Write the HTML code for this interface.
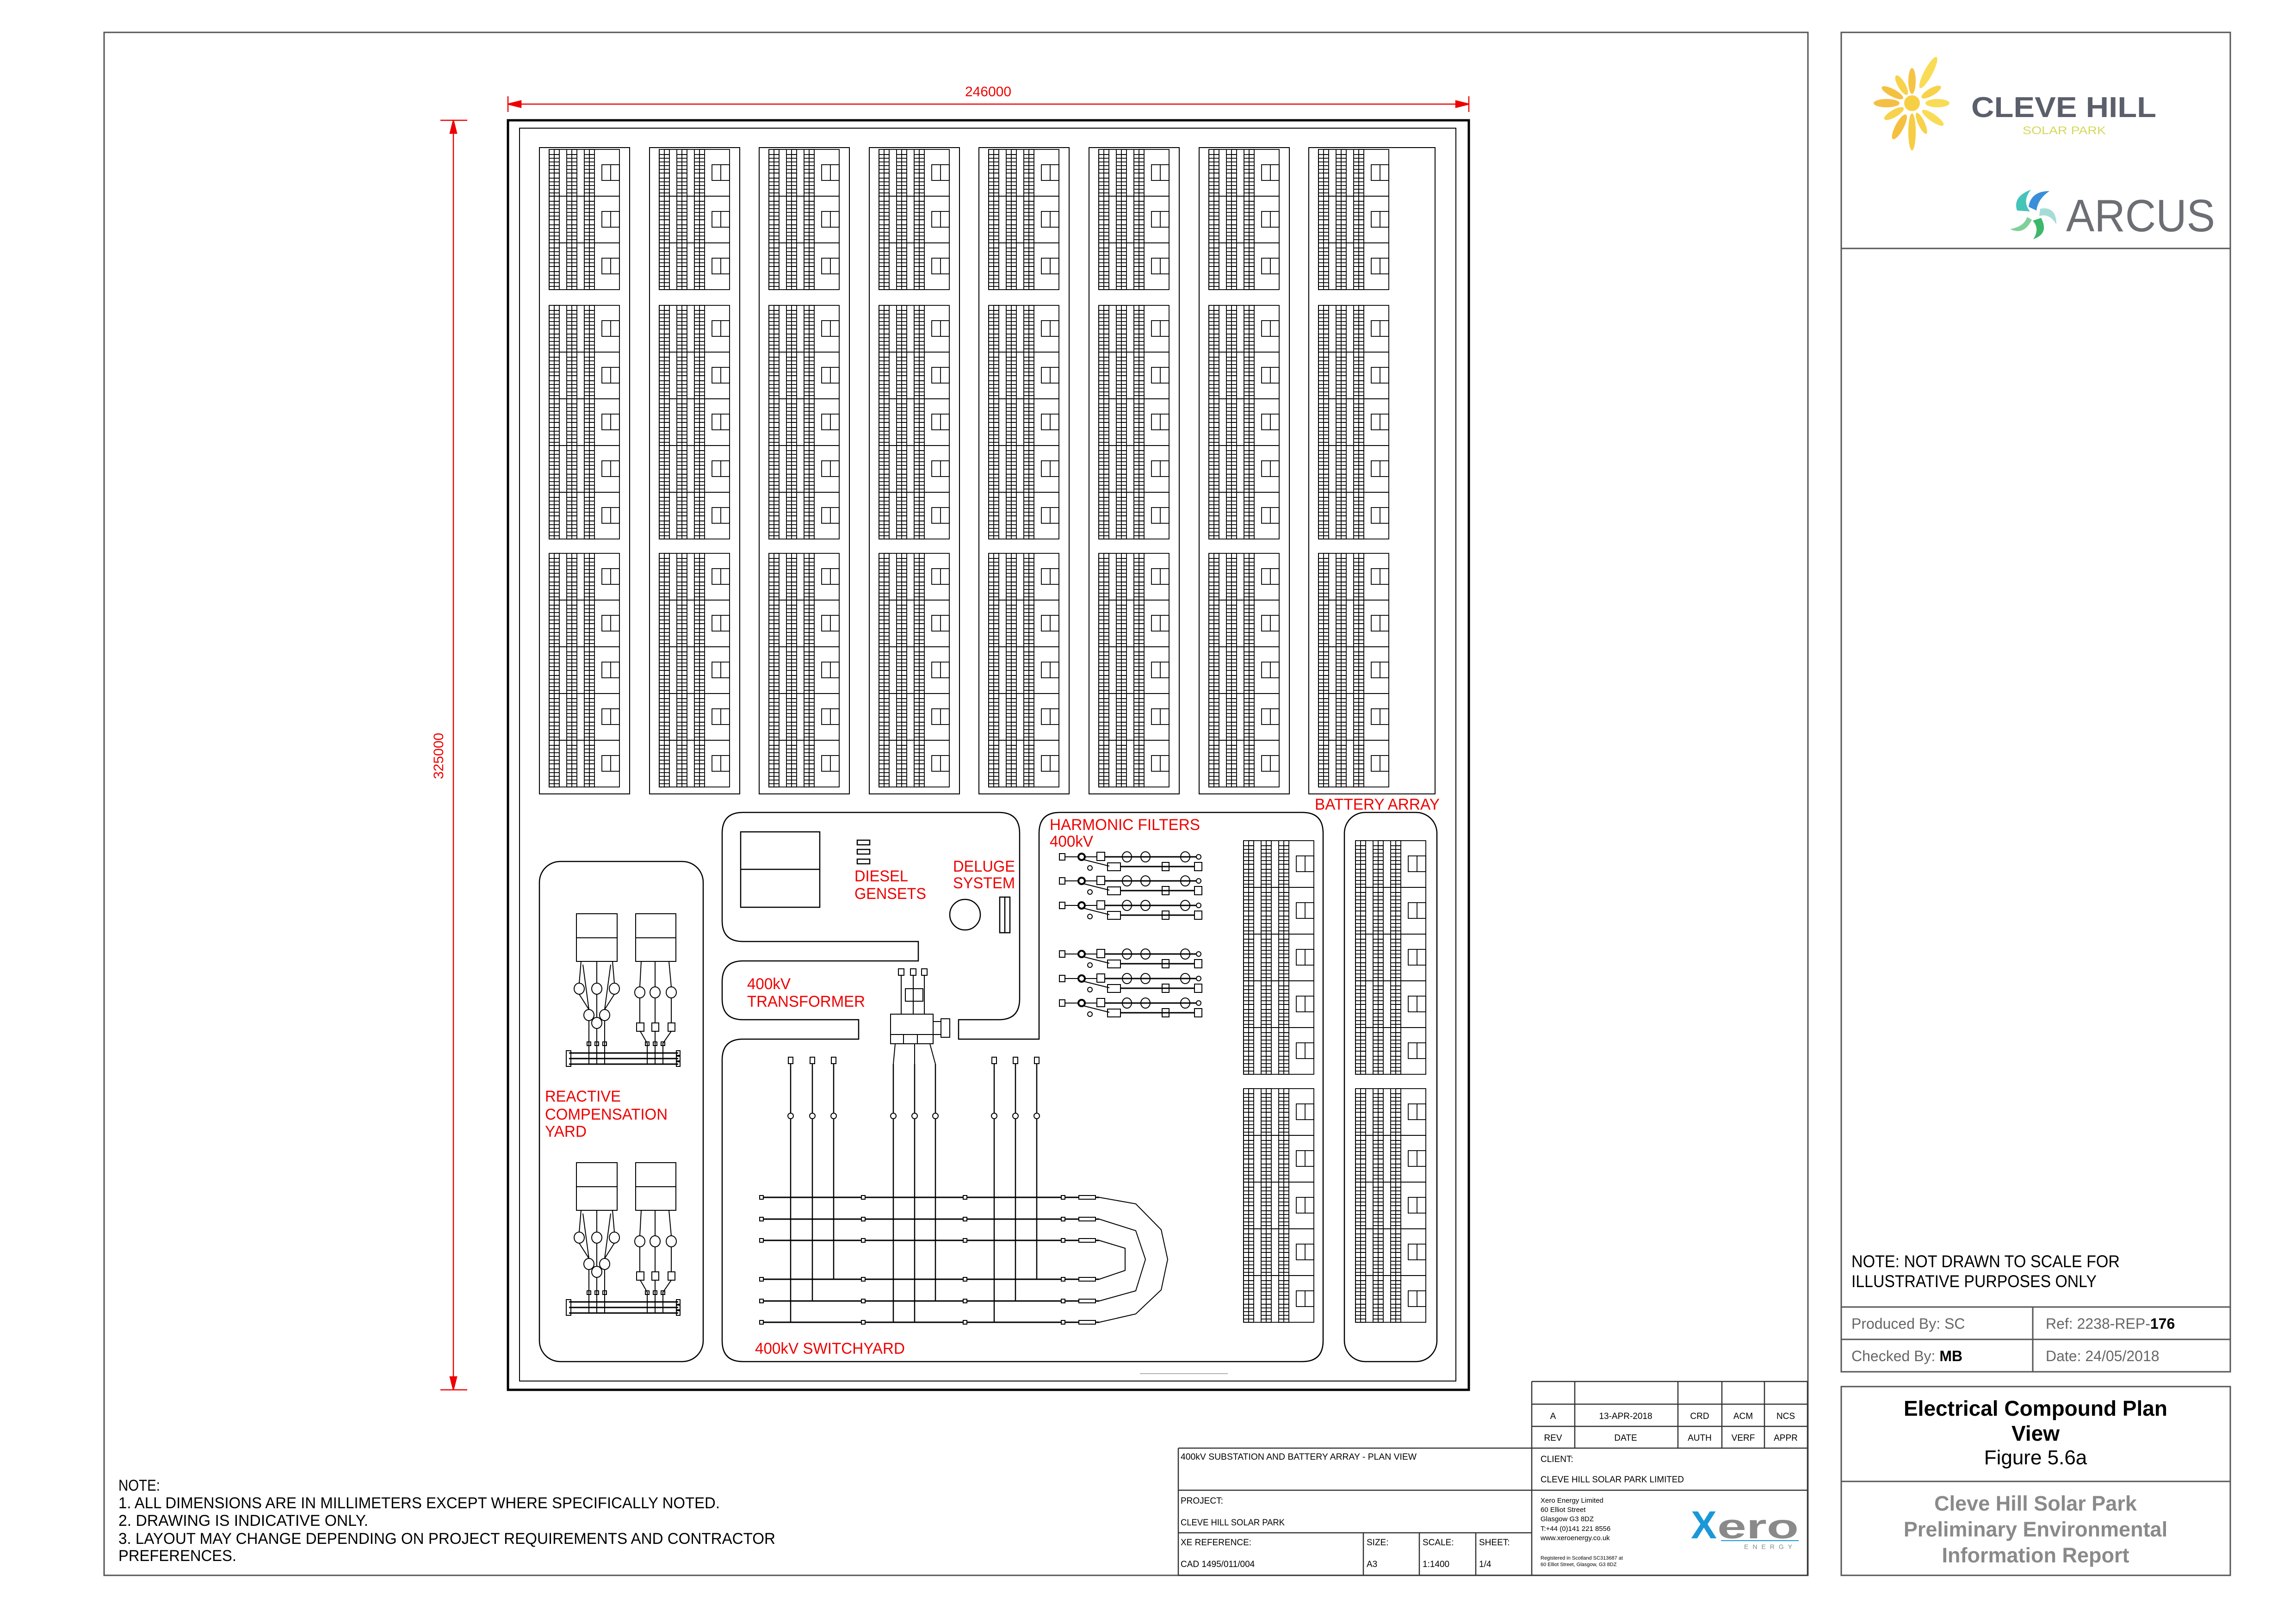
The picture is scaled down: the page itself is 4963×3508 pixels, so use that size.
<!DOCTYPE html>
<html><head><meta charset="utf-8"><style>html,body{margin:0;padding:0;background:#fff}svg{display:block}</style></head>
<body>
<svg xmlns="http://www.w3.org/2000/svg" width="4963" height="3508" viewBox="0 0 4963 3508" font-family="Liberation Sans, Arial, sans-serif">
<defs>
<g id="rk" fill="none" stroke="#000" stroke-width="1.8">
<rect x="11" y="0" width="11" height="11"/><line x1="0" y1="0" x2="0" y2="11"/>
<rect x="0" y="11" width="22" height="40"/><line x1="11" y1="11" x2="11" y2="51"/>
<line x1="0" y1="19" x2="22" y2="19"/><line x1="0" y1="27" x2="22" y2="27"/><line x1="0" y1="35" x2="22" y2="35"/><line x1="0" y1="43" x2="22" y2="43"/>
<rect x="11" y="51" width="11" height="11"/><line x1="0" y1="51" x2="0" y2="62"/>
<rect x="0" y="62" width="22" height="39"/><line x1="11" y1="62" x2="11" y2="101"/>
<line x1="0" y1="70" x2="22" y2="70"/><line x1="0" y1="78" x2="22" y2="78"/><line x1="0" y1="86" x2="22" y2="86"/><line x1="0" y1="94" x2="22" y2="94"/>
</g>
<g id="row">
<use href="#rk" x="0" y="0"/><use href="#rk" x="38" y="0"/><use href="#rk" x="76" y="0"/>
<g fill="none" stroke="#000" stroke-width="1.8"><rect x="0" y="0" width="152" height="101"/><rect x="114" y="33" width="38" height="34"/><line x1="133" y1="33" x2="133" y2="67"/></g>
</g>
<g id="b3"><use href="#row" y="0"/><use href="#row" y="101"/><use href="#row" y="202"/></g>
<g id="b5"><use href="#row" y="0"/><use href="#row" y="101"/><use href="#row" y="202"/><use href="#row" y="303"/><use href="#row" y="404"/></g>
<g id="hf" fill="none" stroke="#000" stroke-width="2">
<rect x="-8" y="-7" width="12" height="14"/><line x1="4" y1="0" x2="33" y2="0"/>
<circle cx="40" cy="0" r="7" stroke-width="4"/><line x1="47" y1="0" x2="73" y2="0"/>
<line x1="44" y1="6" x2="100" y2="20"/>
<rect x="73" y="-10" width="17" height="18"/><line x1="90" y1="0" x2="288" y2="0" stroke-width="3"/>
<ellipse cx="138" cy="0" rx="10" ry="11"/><ellipse cx="178" cy="0" rx="10" ry="11"/><ellipse cx="264" cy="0" rx="10" ry="11"/>
<circle cx="293" cy="0" r="5"/><circle cx="58" cy="24" r="5"/>
<rect x="96" y="13" width="28" height="17"/><line x1="124" y1="21" x2="284" y2="21" stroke-width="3"/>
<rect x="214" y="12" width="15" height="18"/><rect x="284" y="12" width="16" height="18"/>
</g>
<g id="rc" fill="none" stroke="#000" stroke-width="2">
<rect x="0" y="0" width="88" height="103"/><line x1="0" y1="52" x2="88" y2="52"/>
<rect x="128" y="0" width="87" height="103"/><line x1="128" y1="52" x2="215" y2="52"/>
<path d="M10 103 L6 150 M44 103 L44 150 M78 103 L82 150 M6 174 L27 207 M82 174 L61 207 M44 174 L44 224 M14 110 L27 207 M74 110 L61 207"/>
<ellipse cx="6" cy="162" rx="11" ry="12"/><ellipse cx="44" cy="162" rx="11" ry="12"/><ellipse cx="82" cy="162" rx="11" ry="12"/>
<ellipse cx="27" cy="219" rx="11" ry="12"/><ellipse cx="61" cy="219" rx="11" ry="12"/><ellipse cx="44" cy="236" rx="11" ry="12"/>
<path d="M27 231 V325 M44 248 V325 M61 231 V325"/>
<path d="M140 103 L137 158 M170 103 L170 158 M200 103 L205 158 M137 182 V236 M170 182 V236 M205 182 V236"/>
<ellipse cx="137" cy="170" rx="11" ry="12"/><ellipse cx="170" cy="170" rx="11" ry="12"/><ellipse cx="205" cy="170" rx="11" ry="12"/>
<rect x="130" y="236" width="16" height="18"/><rect x="163" y="236" width="15" height="18"/><rect x="198" y="236" width="15" height="18"/>
<path d="M138 254 L153 280 V325 M170 254 V325 M205 254 L187 280 V325"/>
<path d="M-16 301 H220 M-16 313 H220 M-16 325 H220" stroke-width="3"/>
<rect x="-22" y="296" width="10" height="34"/><rect x="216" y="296" width="8" height="10"/><rect x="216" y="308" width="8" height="10"/><rect x="216" y="320" width="8" height="10"/>
<rect x="23" y="277" width="8" height="8"/><rect x="40" y="277" width="8" height="8"/><rect x="57" y="277" width="8" height="8"/>
<rect x="149" y="277" width="8" height="8"/><rect x="166" y="277" width="8" height="8"/><rect x="183" y="277" width="8" height="8"/>
</g>
</defs>

<!-- outer sheet border -->
<rect x="225" y="70" width="3683" height="3335" fill="none" stroke="#555" stroke-width="3"/>

<!-- dimensions -->
<g stroke="#e00" stroke-width="2.5" fill="#e00">
<line x1="1098" y1="225" x2="3175" y2="225"/>
<line x1="1098" y1="208" x2="1098" y2="242"/><line x1="3175" y1="208" x2="3175" y2="242"/>
<path d="M1098 225 L1126 218 L1126 232 Z"/><path d="M3175 225 L3147 218 L3147 232 Z"/>
<line x1="980" y1="260" x2="980" y2="3004"/>
<line x1="952" y1="260" x2="1010" y2="260"/><line x1="952" y1="3004" x2="1010" y2="3004"/>
<path d="M980 260 L973 288 L987 288 Z"/><path d="M980 3004 L973 2976 L987 2976 Z"/>
</g>
<text x="2136" y="208" font-size="30" fill="#e00" text-anchor="middle">246000</text>
<text x="0" y="0" font-size="30" fill="#e00" text-anchor="middle" transform="translate(958 1634) rotate(-90)">325000</text>

<!-- main frame -->
<rect x="1098" y="260" width="2077" height="2744" fill="none" stroke="#000" stroke-width="5"/>
<rect x="1123" y="277" width="2024" height="2708" fill="none" stroke="#000" stroke-width="2"/>
<line x1="2464" y1="2969" x2="2654" y2="2969" stroke="#999" stroke-width="1.5"/>

<!-- battery groups -->
<g fill="none" stroke="#000" stroke-width="2">
<rect x="1166" y="319" width="195" height="1397"/><rect x="1404" y="319" width="195" height="1397"/>
<rect x="1641" y="319" width="195" height="1397"/><rect x="1879" y="319" width="195" height="1397"/>
<rect x="2116" y="319" width="195" height="1397"/><rect x="2354" y="319" width="195" height="1397"/>
<rect x="2592" y="319" width="195" height="1397"/><rect x="2829" y="319" width="273" height="1397"/>
</g>
<use href="#b3" x="1187" y="323"/><use href="#b5" x="1187" y="660"/><use href="#b5" x="1187" y="1196"/>
<use href="#b3" x="1425" y="323"/><use href="#b5" x="1425" y="660"/><use href="#b5" x="1425" y="1196"/>
<use href="#b3" x="1662" y="323"/><use href="#b5" x="1662" y="660"/><use href="#b5" x="1662" y="1196"/>
<use href="#b3" x="1900" y="323"/><use href="#b5" x="1900" y="660"/><use href="#b5" x="1900" y="1196"/>
<use href="#b3" x="2137" y="323"/><use href="#b5" x="2137" y="660"/><use href="#b5" x="2137" y="1196"/>
<use href="#b3" x="2375" y="323"/><use href="#b5" x="2375" y="660"/><use href="#b5" x="2375" y="1196"/>
<use href="#b3" x="2613" y="323"/><use href="#b5" x="2613" y="660"/><use href="#b5" x="2613" y="1196"/>
<use href="#b3" x="2850" y="323"/><use href="#b5" x="2850" y="660"/><use href="#b5" x="2850" y="1196"/>

<!-- lower compound outlines -->
<g fill="none" stroke="#000" stroke-width="2.5">
<rect x="1166" y="1862" width="354" height="1081" rx="45"/>
<path d="M1985 2035 H1606 Q1561 2035 1561 1990 V1801 Q1561 1756 1606 1756 H2159 Q2204 1756 2204 1801 V2159 Q2204 2204 2159 2204 H2072 V2246 H2246 V1801 Q2246 1756 2291 1756 H2815 Q2860 1756 2860 1801 V2898 Q2860 2943 2815 2943 H1606 Q1561 2943 1561 2898 V2291 Q1561 2246 1606 2246 H1856 V2204 H1606 Q1561 2204 1561 2159 V2122 Q1561 2077 1606 2077 H1985 Z"/>
<rect x="2906" y="1756" width="200" height="1187" rx="45"/>
<!-- diesel -->
<rect x="1601" y="1798" width="171" height="163"/><line x1="1601" y1="1879" x2="1772" y2="1879"/>
<rect x="1853" y="1816" width="27" height="10"/><rect x="1853" y="1836" width="27" height="10"/><rect x="1853" y="1857" width="27" height="10"/>
<circle cx="2086" cy="1977" r="33"/><rect x="2161" y="1939" width="22" height="77"/><line x1="2172" y1="1939" x2="2172" y2="2016"/>
</g>
<use href="#b5" x="2688" y="1817"/><use href="#b5" x="2688" y="2353"/>
<use href="#b5" x="2930" y="1817"/><use href="#b5" x="2930" y="2353"/>

<!-- reactive compensation -->
<use href="#rc" x="1246" y="1975"/><use href="#rc" x="1246" y="2513"/>

<!-- harmonic filters -->
<use href="#hf" x="2298" y="1852"/><use href="#hf" x="2298" y="1904"/><use href="#hf" x="2298" y="1957"/>
<use href="#hf" x="2298" y="2062"/><use href="#hf" x="2298" y="2115"/><use href="#hf" x="2298" y="2168"/>

<!-- transformer -->
<g fill="none" stroke="#000" stroke-width="2">
<rect x="1942" y="2094" width="12" height="14"/><rect x="1968" y="2094" width="12" height="14"/><rect x="1992" y="2094" width="12" height="14"/>
<path d="M1948 2108 V2192 M1974 2108 V2192 M1998 2108 V2192"/>
<rect x="1957" y="2137" width="38" height="27"/>
<rect x="1925" y="2192" width="92" height="44"/><rect x="1925" y="2236" width="28" height="20"/><rect x="1953" y="2236" width="30" height="20"/><rect x="1983" y="2236" width="34" height="20"/>
<rect x="2017" y="2208" width="17" height="28"/><rect x="2034" y="2202" width="19" height="40"/>
<path d="M1935 2256 L1931 2300 M1977 2256 V2300 M2010 2256 L2022 2300"/>
</g>

<!-- switchyard -->
<g fill="none" stroke="#000" stroke-width="2">
<path d="M1709 2292 V2858 M1756 2292 V2812 M1802 2292 V2765 M1931 2300 V2858 M1977 2300 V2858 M2022 2300 V2812 M2149 2292 V2858 M2195 2292 V2812 M2241 2292 V2765" stroke-width="2.5"/>
<g fill="#fff"><circle cx="1709" cy="2412" r="6"/><circle cx="1756" cy="2412" r="6"/><circle cx="1802" cy="2412" r="6"/><circle cx="1931" cy="2412" r="6"/><circle cx="1977" cy="2412" r="6"/><circle cx="2022" cy="2412" r="6"/><circle cx="2149" cy="2412" r="6"/><circle cx="2195" cy="2412" r="6"/><circle cx="2241" cy="2412" r="6"/>
<rect x="1704" y="2285" width="10" height="14"/><rect x="1751" y="2285" width="10" height="14"/><rect x="1797" y="2285" width="10" height="14"/><rect x="2144" y="2285" width="10" height="14"/><rect x="2190" y="2285" width="10" height="14"/><rect x="2236" y="2285" width="10" height="14"/>
</g>
<path d="M1646 2588 H2376 M1646 2635 H2376 M1646 2681 H2376 M1646 2765 H2376 M1646 2812 H2376 M1646 2858 H2376" stroke-width="3"/>
<path d="M2376 2588 L2455 2602 L2510 2658 L2524 2722 L2510 2788 L2455 2840 L2376 2858"/>
<path d="M2376 2635 L2455 2660 L2476 2722 L2455 2790 L2376 2812"/>
<path d="M2376 2681 L2432 2698 L2432 2746 L2376 2765"/>
<g fill="#fff">
<rect x="1642" y="2584" width="8" height="8"/><rect x="1642" y="2631" width="8" height="8"/><rect x="1642" y="2677" width="8" height="8"/><rect x="1642" y="2761" width="8" height="8"/><rect x="1642" y="2808" width="8" height="8"/><rect x="1642" y="2854" width="8" height="8"/>
<rect x="1862" y="2584" width="8" height="8"/><rect x="1862" y="2631" width="8" height="8"/><rect x="1862" y="2677" width="8" height="8"/><rect x="1862" y="2761" width="8" height="8"/><rect x="1862" y="2808" width="8" height="8"/><rect x="1862" y="2854" width="8" height="8"/>
<rect x="2082" y="2584" width="8" height="8"/><rect x="2082" y="2631" width="8" height="8"/><rect x="2082" y="2677" width="8" height="8"/><rect x="2082" y="2761" width="8" height="8"/><rect x="2082" y="2808" width="8" height="8"/><rect x="2082" y="2854" width="8" height="8"/>
<rect x="2294" y="2584" width="8" height="8"/><rect x="2294" y="2631" width="8" height="8"/><rect x="2294" y="2677" width="8" height="8"/><rect x="2294" y="2761" width="8" height="8"/><rect x="2294" y="2808" width="8" height="8"/><rect x="2294" y="2854" width="8" height="8"/>
<rect x="2332" y="2584" width="36" height="8"/><rect x="2332" y="2631" width="36" height="8"/><rect x="2332" y="2677" width="36" height="8"/><rect x="2332" y="2761" width="36" height="8"/><rect x="2332" y="2808" width="36" height="8"/><rect x="2332" y="2854" width="36" height="8"/>
</g>
</g>

<!-- red labels -->
<g fill="#e00" font-size="34">
<text x="2842" y="1750" textLength="270" lengthAdjust="spacingAndGlyphs">BATTERY ARRAY</text>
<text x="2269" y="1794" textLength="325" lengthAdjust="spacingAndGlyphs">HARMONIC FILTERS</text>
<text x="2269" y="1830" textLength="94" lengthAdjust="spacingAndGlyphs">400kV</text>
<text x="1847" y="1905" textLength="116" lengthAdjust="spacingAndGlyphs">DIESEL</text>
<text x="1847" y="1943" textLength="155" lengthAdjust="spacingAndGlyphs">GENSETS</text>
<text x="2060" y="1884" textLength="134" lengthAdjust="spacingAndGlyphs">DELUGE</text>
<text x="2060" y="1920" textLength="134" lengthAdjust="spacingAndGlyphs">SYSTEM</text>
<text x="1615" y="2138" textLength="94" lengthAdjust="spacingAndGlyphs">400kV</text>
<text x="1615" y="2176" textLength="255" lengthAdjust="spacingAndGlyphs">TRANSFORMER</text>
<text x="1178" y="2381" textLength="164" lengthAdjust="spacingAndGlyphs">REACTIVE</text>
<text x="1178" y="2420" textLength="265" lengthAdjust="spacingAndGlyphs">COMPENSATION</text>
<text x="1178" y="2457" textLength="90" lengthAdjust="spacingAndGlyphs">YARD</text>
<text x="1632" y="2926" textLength="324" lengthAdjust="spacingAndGlyphs">400kV SWITCHYARD</text>
</g>

<!-- notes -->
<g font-size="34" fill="#000">
<text x="256" y="3222" textLength="90" lengthAdjust="spacingAndGlyphs">NOTE:</text>
<text x="256" y="3260" textLength="1300" lengthAdjust="spacingAndGlyphs">1. ALL DIMENSIONS ARE IN MILLIMETERS EXCEPT WHERE SPECIFICALLY NOTED.</text>
<text x="256" y="3298" textLength="540" lengthAdjust="spacingAndGlyphs">2. DRAWING IS INDICATIVE ONLY.</text>
<text x="256" y="3337" textLength="1420" lengthAdjust="spacingAndGlyphs">3. LAYOUT MAY CHANGE DEPENDING ON PROJECT REQUIREMENTS AND CONTRACTOR</text>
<text x="256" y="3374" textLength="255" lengthAdjust="spacingAndGlyphs">PREFERENCES.</text>
</g>

<!-- title block -->
<g fill="none" stroke="#333" stroke-width="2.5">
<path d="M3311 2986 H3907 M3311 3035 H3907 M3311 3083 H3907 M2547 3130 H3907 M2547 3221 H3907 M2547 3313 H3311 M2547 3405 H3907"/>
<path d="M3311 2986 V3405 M3404 2986 V3130 M3627 2986 V3130 M3722 2986 V3130 M3814 2986 V3130 M2547 3130 V3405 M2947 3313 V3405 M3068 3313 V3405 M3190 3313 V3405 M3907 2986 V3405"/>
</g>
<g font-size="19" fill="#000">
<text x="3357" y="3067" text-anchor="middle">A</text><text x="3514" y="3067" text-anchor="middle">13-APR-2018</text>
<text x="3674" y="3067" text-anchor="middle">CRD</text><text x="3768" y="3067" text-anchor="middle">ACM</text><text x="3860" y="3067" text-anchor="middle">NCS</text>
<text x="3357" y="3114" text-anchor="middle">REV</text><text x="3514" y="3114" text-anchor="middle">DATE</text>
<text x="3674" y="3114" text-anchor="middle">AUTH</text><text x="3768" y="3114" text-anchor="middle">VERF</text><text x="3860" y="3114" text-anchor="middle">APPR</text>
<text x="2552" y="3155" textLength="510" lengthAdjust="spacingAndGlyphs">400kV SUBSTATION AND BATTERY ARRAY - PLAN VIEW</text>
<text x="3330" y="3160">CLIENT:</text>
<text x="3330" y="3204" textLength="310" lengthAdjust="spacingAndGlyphs">CLEVE HILL SOLAR PARK LIMITED</text>
<text x="2552" y="3250">PROJECT:</text>
<text x="2552" y="3297" textLength="225" lengthAdjust="spacingAndGlyphs">CLEVE HILL SOLAR PARK</text>
<text x="2552" y="3340">XE REFERENCE:</text>
<text x="2552" y="3387">CAD 1495/011/004</text>
<text x="2954" y="3340">SIZE:</text><text x="2954" y="3387">A3</text>
<text x="3075" y="3340">SCALE:</text><text x="3075" y="3387">1:1400</text>
<text x="3197" y="3340">SHEET:</text><text x="3197" y="3387">1/4</text>
</g>
<g font-size="15" fill="#000">
<text x="3330" y="3248">Xero Energy Limited</text><text x="3330" y="3268">60 Elliot Street</text><text x="3330" y="3288">Glasgow G3 8DZ</text><text x="3330" y="3309">T:+44 (0)141 221 8556</text><text x="3330" y="3329">www.xeroenergy.co.uk</text>
<text x="3330" y="3371" font-size="11">Registered in Scotland SC313687 at</text><text x="3330" y="3385" font-size="11">60 Elliot Street, Glasgow, G3 8DZ</text>
</g>
<text x="3655" y="3325" font-size="84" font-weight="bold" fill="#1a98d8">X</text>
<text x="3712" y="3325" font-size="74" font-weight="bold" fill="#8a8a8a" textLength="176" lengthAdjust="spacingAndGlyphs">ero</text>
<line x1="3720" y1="3330" x2="3888" y2="3330" stroke="#1a98d8" stroke-width="2"/>
<text x="3770" y="3348" font-size="14" fill="#888" letter-spacing="9">ENERGY</text>

<!-- right panel -->
<g fill="none" stroke="#555" stroke-width="3">
<rect x="3980" y="70" width="841" height="2895"/>
<line x1="3980" y1="537" x2="4821" y2="537"/>
<line x1="3980" y1="2825" x2="4821" y2="2825"/><line x1="3980" y1="2895" x2="4821" y2="2895"/>
<line x1="4394" y1="2825" x2="4394" y2="2965"/>
<rect x="3980" y="2997" width="841" height="408"/><line x1="3980" y1="3202" x2="4821" y2="3202"/>
</g>
<!-- sun logo -->
<g transform="translate(4133 223)">
<circle r="17" fill="#f7cf45"/>
<g fill="#f7d24a">
<ellipse cx="0" cy="-75" rx="9" ry="38" transform="rotate(28)" fill="#f9dc55"/>
<ellipse cx="0" cy="-48" rx="8" ry="28" transform="rotate(0)" fill="#f5c445"/>
<ellipse cx="0" cy="-45" rx="8" ry="24" transform="rotate(-30)"/>
<ellipse cx="0" cy="-48" rx="8" ry="26" transform="rotate(-62)" fill="#f5c040"/>
<ellipse cx="0" cy="-55" rx="9" ry="28" transform="rotate(-90)" fill="#f5bf45"/>
<ellipse cx="0" cy="-45" rx="8" ry="24" transform="rotate(-120)"/>
<ellipse cx="0" cy="-58" rx="9" ry="30" transform="rotate(-152)" fill="#f5c040"/>
<ellipse cx="0" cy="-62" rx="8" ry="40" transform="rotate(180)" fill="#f7cd45"/>
<ellipse cx="0" cy="-48" rx="7" ry="25" transform="rotate(155)"/>
<ellipse cx="0" cy="-55" rx="8" ry="28" transform="rotate(125)" fill="#f9dc55"/>
<ellipse cx="0" cy="-55" rx="9" ry="26" transform="rotate(90)" fill="#f9dc55"/>
<ellipse cx="0" cy="-48" rx="8" ry="24" transform="rotate(60)"/>
</g></g>
<text x="4261" y="253" font-size="62" font-weight="bold" fill="#5b5f6b" textLength="400" lengthAdjust="spacingAndGlyphs">CLEVE HILL</text>
<text x="4372" y="290" font-size="24" fill="#d6d85a" textLength="180" lengthAdjust="spacingAndGlyphs">SOLAR PARK</text>
<!-- arcus -->
<g transform="translate(4400 465)">
<path d="M-40 -10 Q-50 -40 -10 -55 Q-30 -30 -12 -8 Z" fill="#45c4b8"/>
<path d="M-15 -18 Q-10 -52 30 -52 Q5 -35 2 -10 Z" fill="#3a8fd8"/>
<path d="M10 -14 Q45 -20 45 20 Q30 -5 8 2 Z" fill="#a6dcd8"/>
<path d="M12 6 Q30 40 -5 52 Q10 30 -6 12 Z" fill="#3cb86a"/>
<path d="M-8 10 Q-25 45 -55 30 Q-25 25 -18 4 Z" fill="#7fd09a"/>
</g>
<text x="4466" y="500" font-size="98" fill="#6b6e73" textLength="322" lengthAdjust="spacingAndGlyphs">ARCUS</text>

<g font-size="37" fill="#000">
<text x="4002" y="2739" textLength="580" lengthAdjust="spacingAndGlyphs">NOTE: NOT DRAWN TO SCALE FOR</text>
<text x="4002" y="2782" textLength="530" lengthAdjust="spacingAndGlyphs">ILLUSTRATIVE PURPOSES ONLY</text>
</g>
<g font-size="32" fill="#666">
<text x="4002" y="2872">Produced By: SC</text>
<text x="4422" y="2872">Ref: 2238-REP-<tspan fill="#000" font-weight="bold">176</tspan></text>
<text x="4002" y="2942">Checked By:  <tspan fill="#000" font-weight="bold">MB</tspan></text>
<text x="4422" y="2942">Date: 24/05/2018</text>
</g>
<g text-anchor="middle">
<text x="4400" y="3060" font-size="46" font-weight="bold" fill="#000">Electrical Compound Plan</text>
<text x="4400" y="3114" font-size="46" font-weight="bold" fill="#000">View</text>
<text x="4400" y="3165" font-size="44" fill="#000">Figure 5.6a</text>
<text x="4400" y="3265" font-size="45" font-weight="bold" fill="#8a8a8a">Cleve Hill Solar Park</text>
<text x="4400" y="3321" font-size="45" font-weight="bold" fill="#8a8a8a">Preliminary Environmental</text>
<text x="4400" y="3377" font-size="45" font-weight="bold" fill="#8a8a8a">Information Report</text>
</g>
</svg>
</body></html>
